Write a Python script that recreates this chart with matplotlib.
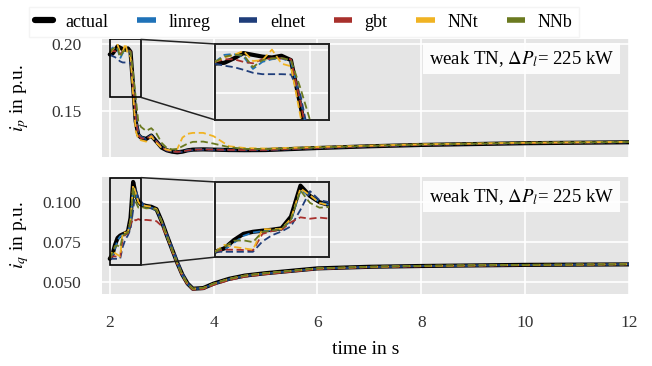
import matplotlib
matplotlib.use('Agg')
import matplotlib.pyplot as plt
from matplotlib.lines import Line2D
from matplotlib.patches import Rectangle, ConnectionPatch

plt.rcParams['font.family'] = ['Liberation Serif', 'DejaVu Serif']
plt.rcParams['mathtext.fontset'] = 'stix'
plt.rcParams['font.size'] = 12

time = [2.0, 2.05, 2.1, 2.15, 2.2, 2.25, 2.3, 2.35, 2.4, 2.45, 2.5, 2.55, 2.6,
        2.7, 2.8, 2.9, 3.0, 3.1, 3.2, 3.3, 3.4, 3.5, 3.6, 3.8, 4.0, 4.3, 4.6,
        5.0, 6.0, 7.0, 8.0, 10.0, 12.0]

names = ['actual', 'linreg', 'elnet', 'gbt', 'NNt', 'NNb']
colors = ['black', '#1f72b8', '#1f3d7a', '#a8302c', '#f0b323', '#6b7a20']

# active current i_p
ip_actual = [0.192, 0.1925, 0.195, 0.198, 0.197, 0.196, 0.1955, 0.1965, 0.194, 0.168, 0.142, 0.132, 0.130,
             0.129, 0.1315, 0.127, 0.1225, 0.1205, 0.1195, 0.119, 0.1195, 0.1205, 0.121, 0.1212, 0.121,
             0.1207, 0.1206, 0.1207, 0.1222, 0.1235, 0.1245, 0.1258, 0.1265]
ip_linreg = [0.193, 0.197, 0.1975, 0.196, 0.189, 0.193, 0.1945, 0.195, 0.193, 0.172, 0.145, 0.133, 0.1305,
             0.1293, 0.1318, 0.1272, 0.1228, 0.1208, 0.1198, 0.1193, 0.1198, 0.1207, 0.1212, 0.1214, 0.1213,
             0.121, 0.1209, 0.121, 0.1225, 0.1237, 0.1247, 0.126, 0.1268]
ip_elnet = [0.192, 0.1908, 0.190, 0.1885, 0.1868, 0.186, 0.186, 0.186, 0.1858, 0.174, 0.148, 0.134, 0.1302,
            0.1288, 0.1312, 0.1268, 0.1222, 0.1202, 0.1195, 0.1191, 0.1194, 0.120, 0.1206, 0.1209, 0.1208,
            0.1205, 0.1205, 0.1206, 0.122, 0.1233, 0.1244, 0.1257, 0.1264]
ip_gbt = [0.193, 0.1945, 0.1945, 0.193, 0.1922, 0.1945, 0.195, 0.195, 0.1945, 0.170, 0.143, 0.132, 0.1295,
          0.1292, 0.1312, 0.127, 0.1226, 0.1206, 0.1196, 0.1193, 0.1197, 0.1204, 0.121, 0.1212, 0.1211,
          0.1208, 0.1207, 0.1208, 0.1223, 0.1236, 0.1246, 0.1259, 0.1266]
ip_nnt = [0.193, 0.1955, 0.197, 0.1992, 0.1935, 0.194, 0.200, 0.192, 0.1905, 0.162, 0.135, 0.129, 0.128,
          0.127, 0.131, 0.126, 0.1222, 0.121, 0.1202, 0.1215, 0.130, 0.1328, 0.1335, 0.1335, 0.131,
          0.1235, 0.1222, 0.1218, 0.123, 0.124, 0.125, 0.1262, 0.1268]
ip_nnb = [0.193, 0.196, 0.197, 0.197, 0.190, 0.194, 0.195, 0.1952, 0.194, 0.178, 0.160, 0.142, 0.138,
          0.135, 0.137, 0.133, 0.126, 0.1222, 0.1212, 0.1215, 0.1235, 0.1255, 0.1268, 0.127, 0.1255,
          0.1228, 0.1216, 0.1214, 0.1226, 0.1238, 0.1248, 0.126, 0.1267]

# reactive current i_q
iq_actual = [0.0645, 0.067, 0.073, 0.0775, 0.079, 0.0798, 0.0805, 0.0815, 0.090, 0.1125, 0.105, 0.1005, 0.0985,
             0.0975, 0.097, 0.0955, 0.088, 0.079, 0.0705, 0.062, 0.0545, 0.049, 0.0458, 0.0462, 0.049,
             0.052, 0.054, 0.0555, 0.0585, 0.0595, 0.060, 0.0607, 0.061]
iq_linreg = [0.0645, 0.066, 0.071, 0.076, 0.0785, 0.0795, 0.0802, 0.081, 0.087, 0.109, 0.1055, 0.1005, 0.0985,
             0.0972, 0.0965, 0.095, 0.0875, 0.0785, 0.070, 0.0615, 0.054, 0.0487, 0.0456, 0.0461, 0.0488,
             0.0518, 0.0538, 0.0553, 0.0583, 0.0594, 0.060, 0.0606, 0.061]
iq_elnet = [0.0645, 0.0645, 0.0645, 0.0645, 0.0645, 0.072, 0.0765, 0.0792, 0.083, 0.095, 0.1085, 0.102, 0.1005,
            0.0965, 0.096, 0.0945, 0.0885, 0.080, 0.072, 0.0635, 0.0555, 0.0495, 0.046, 0.0462, 0.0486,
            0.0515, 0.0536, 0.0551, 0.0582, 0.0593, 0.0599, 0.0606, 0.0611]
iq_gbt = [0.065, 0.066, 0.066, 0.0658, 0.0656, 0.0775, 0.0795, 0.0805, 0.086, 0.0895, 0.0885, 0.0893, 0.0886,
          0.0888, 0.0885, 0.088, 0.085, 0.0785, 0.0695, 0.061, 0.0535, 0.0482, 0.0452, 0.0456, 0.0482,
          0.0512, 0.0533, 0.0548, 0.058, 0.0592, 0.0598, 0.0605, 0.061]
iq_nnt = [0.0645, 0.0695, 0.068, 0.067, 0.066, 0.081, 0.0808, 0.0812, 0.0885, 0.1105, 0.1055, 0.100, 0.0982,
          0.0975, 0.097, 0.0955, 0.0878, 0.0788, 0.0703, 0.0618, 0.0543, 0.0489, 0.0458, 0.0463, 0.049,
          0.052, 0.054, 0.0555, 0.0585, 0.0595, 0.0601, 0.0607, 0.0611]
iq_nnb = [0.0645, 0.068, 0.0725, 0.0728, 0.0715, 0.079, 0.080, 0.081, 0.088, 0.109, 0.100, 0.0965, 0.097,
          0.096, 0.0962, 0.095, 0.0878, 0.0788, 0.0703, 0.0618, 0.0543, 0.0489, 0.0458, 0.0463, 0.049,
          0.052, 0.054, 0.0555, 0.0585, 0.0595, 0.0601, 0.0607, 0.0611]

ip_series = [ip_actual, ip_linreg, ip_elnet, ip_gbt, ip_nnt, ip_nnb]
iq_series = [iq_actual, iq_linreg, iq_elnet, iq_gbt, iq_nnt, iq_nnb]

BG = '#e5e5e5'


def style_axes(ax):
    ax.set_facecolor(BG)
    ax.grid(True, color='white', lw=1.2)
    ax.set_axisbelow(True)
    for s in ax.spines.values():
        s.set_visible(False)
    ax.tick_params(length=0, colors='#333333', labelsize=12.5, pad=15)


def draw_lines(ax, series):
    for name, c, vals in zip(names, colors, series):
        if name == 'actual':
            ax.plot(time, vals, color=c, lw=3, solid_capstyle='round', zorder=2)
        else:
            ax.plot(time, vals, color=c, lw=1.3, ls=(0, (4, 2)), zorder=3)


fig = plt.figure(figsize=(6.52, 3.66), dpi=100)
ax1 = fig.add_axes([0.1564, 0.571, 0.8083, 0.3224])
ax2 = fig.add_axes([0.1564, 0.1967, 0.8083, 0.3197], sharex=ax1)

panels = [
    (ax1, ip_series, (0.1155, 0.2035), (0.16, 0.2032), [0.15, 0.20], [0.175, 0.2], r'$i_p$ in p.u.', '{:.2f}'),
    (ax2, iq_series, (0.0425, 0.1156), (0.0606, 0.1152), [0.05, 0.075, 0.1], [0.075, 0.1], r'$i_q$ in p.u.', '{:.3f}'),
]

for ax, series, ylim, zlim, yt, zt, ylab, fmt in panels:
    style_axes(ax)
    draw_lines(ax, series)
    ax.set_xlim(1.85, 12.0)
    ax.set_ylim(*ylim)
    ax.set_yticks(yt)
    ax.set_yticklabels([fmt.format(v) for v in yt])
    ax.set_ylabel(ylab, fontsize=14)
    ax.yaxis.set_label_coords(-0.135, 0.5)
    ax.text(0.972, 0.915, r'weak TN, $\Delta P_l$= 225 kW', transform=ax.transAxes,
            ha='right', va='top', fontsize=13.5, zorder=6,
            bbox=dict(boxstyle='square,pad=0.3', fc='white', ec='none', alpha=0.9))

    # zoom inset
    axins = ax.inset_axes([0.2144, 0.315, 0.2163, 0.643])
    axins.set_facecolor(BG)
    axins.grid(True, color='white', lw=1.2)
    axins.set_axisbelow(True)
    draw_lines(axins, series)
    axins.set_xlim(2.0, 2.6)
    axins.set_ylim(*zlim)
    axins.set_xticks([2.5])
    axins.set_yticks(zt)
    axins.tick_params(length=0, labelbottom=False, labelleft=False)
    for s in axins.spines.values():
        s.set_color('#222222')
        s.set_linewidth(1.4)
    axins.set_zorder(5)

    ax.add_patch(Rectangle((2.0, zlim[0]), 0.6, zlim[1] - zlim[0], fill=False,
                           ec='black', lw=1.2, zorder=4))
    for yv, yf in [(zlim[1], 1), (zlim[0], 0)]:
        con = ConnectionPatch(xyA=(2.6, yv), coordsA=ax.transData,
                              xyB=(0, yf), coordsB=axins.transAxes,
                              color='#222222', lw=1.1)
        fig.add_artist(con)

ax1.set_xticks([2, 4, 6, 8, 10, 12])
ax1.tick_params(labelbottom=False)
ax2.set_xlabel('time in s', fontsize=14)
ax2.xaxis.set_label_coords(0.5, -0.4)

handles = []
for name, c in zip(names, colors):
    if name == 'actual':
        handles.append(Line2D([], [], color=c, lw=4.5, solid_capstyle='round'))
    else:
        handles.append(Line2D([], [], color=c, lw=4, solid_capstyle='butt'))
fig.legend(handles, names, loc='upper left', bbox_to_anchor=(0.03, 1.005), ncol=6,
           frameon=True, fancybox=False, edgecolor='#f2f2f2', facecolor='white',
           handlelength=1.0, handletextpad=0.7, columnspacing=1.6, fontsize=13,
           borderpad=0.35)

fig.savefig('out.png', dpi=100)
